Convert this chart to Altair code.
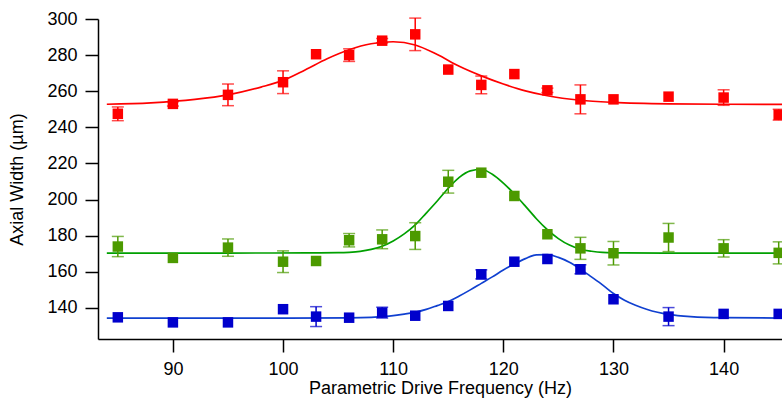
import altair as alt
import pandas as pd

# Measured data (frequency in Hz, axial width in µm)
freq = [85, 90, 95, 100, 103, 106, 109, 112, 115, 118, 121, 124, 127, 130, 135, 140, 145]

red_val = [247.5, 253.0, 258.0, 265.0, 280.5, 280.0, 288.0, 291.5, 272.0, 263.5, 269.5, 260.5, 255.5, 255.5, 257.0, 256.5, 247.0]
red_err = [3.8, 1.2, 6.0, 6.3, 0.0, 3.5, 1.2, 9.0, 0.0, 4.9, 0.0, 1.2, 8.0, 0.0, 0.0, 4.3, 3.0]

green_val = [174.0, 167.7, 173.4, 165.6, 166.0, 177.5, 178.0, 179.8, 209.9, 214.9, 202.0, 180.8, 173.0, 170.3, 179.0, 173.0, 170.5]
green_err = [5.6, 0.0, 4.8, 6.0, 0.0, 3.7, 5.2, 7.4, 6.3, 0.0, 0.0, 0.0, 6.1, 6.5, 7.8, 4.8, 6.1]

blue_val = [134.8, 132.0, 132.0, 139.3, 135.2, 134.6, 137.4, 135.7, 141.1, 158.6, 165.6, 167.1, 161.4, 144.8, 135.2, 136.7, 136.7]
blue_err = [0.0, 0.0, 0.0, 0.0, 5.5, 0.0, 3.0, 0.0, 0.0, 2.5, 0.0, 0.0, 2.5, 0.0, 5.0, 0.0, 0.0]

# Fit curves
red_curve_f = [84, 88, 92, 95, 98, 100, 102, 104, 106, 108, 110, 112, 114, 116, 118, 120, 122, 124, 127, 130, 135, 140, 145.3]
red_curve_v = [252.8, 253.6, 255.5, 258.0, 262.3, 266.0, 271.8, 278.0, 283.0, 286.3, 287.4, 285.6, 280.3, 273.8, 268.5, 264.0, 260.2, 257.5, 255.0, 253.8, 253.0, 252.8, 252.7]

green_curve_f = [84, 95, 102, 105, 106, 107, 108, 109, 110, 111, 112, 113, 114, 115, 116, 117, 118, 119, 120, 121, 122, 123, 124, 125, 126, 127, 128, 129, 131, 135, 140, 145.3]
green_curve_v = [170.4, 170.4, 170.5, 170.6, 170.8, 171.3, 172.4, 174.2, 177.1, 181.0, 186.0, 192.5, 199.2, 206.3, 212.3, 215.9, 216.8, 214.0, 209.1, 203.1, 196.4, 189.4, 183.3, 178.4, 174.8, 172.5, 171.4, 170.8, 170.5, 170.4, 170.4, 170.4]

blue_curve_f = [84, 100, 106, 108, 110, 111, 112, 113, 114, 115, 116, 117, 118, 119, 120, 121, 122, 123, 124, 125, 126, 127, 128, 129, 130, 131, 132, 133, 134, 135, 137, 140, 145.3]
blue_curve_v = [134.4, 134.4, 134.5, 134.8, 135.7, 136.6, 137.6, 139.2, 141.3, 143.5, 146.6, 150.0, 153.6, 157.2, 161.0, 164.3, 167.3, 169.4, 169.5, 168.0, 165.3, 161.5, 157.2, 152.8, 148.0, 144.3, 141.5, 139.3, 137.6, 136.4, 135.2, 134.6, 134.4]

x_ticks = [90, 100, 110, 120, 130, 140]
y_ticks = [140, 160, 180, 200, 220, 240, 260, 280, 300]

series = [
    ("red", red_val, red_err, red_curve_f, red_curve_v, "#FF0000", "#FF0000"),
    ("green", green_val, green_err, green_curve_f, green_curve_v, "#4C9A00", "#00A000"),
    ("blue", blue_val, blue_err, blue_curve_f, blue_curve_v, "#0000CC", "#1040D0"),
]

xscale = alt.Scale(domain=[83.2, 145.3], nice=False, zero=False)
yscale = alt.Scale(domain=[122.8, 300], nice=False, zero=False)
xaxis = alt.Axis(title="Parametric Drive Frequency (Hz)", values=x_ticks, format="d")
yaxis = alt.Axis(title="Axial Width (µm)", values=y_ticks, format="d")


def X(field):
    return alt.X(field, type="quantitative", scale=xscale, axis=xaxis)


def Y(field):
    return alt.Y(field, type="quantitative", scale=yscale, axis=yaxis)


curve_layers, err_layers, point_layers = [], [], []
for name, vals, errs, cf, cv, mcol, lcol in series:
    pts = pd.DataFrame({"f": freq, "v": vals, "e": errs})
    pts["lo"] = pts["v"] - pts["e"]
    pts["hi"] = pts["v"] + pts["e"]
    eb = pts[pts["e"] > 0]
    cur = pd.DataFrame({"f": cf, "v": cv})

    curve_layers.append(
        alt.Chart(cur).mark_line(color=lcol, strokeWidth=1.7, interpolate="monotone", clip=True)
        .encode(x=X("f"), y=Y("v"))
    )
    err_layers.append(
        alt.Chart(eb).mark_rule(color=mcol, strokeWidth=1.5)
        .encode(x=X("f"), y=Y("lo"), y2=alt.Y2("hi"))
    )
    for cap in ("lo", "hi"):
        err_layers.append(
            alt.Chart(eb).mark_tick(color=mcol, orient="horizontal", size=12, thickness=1.5)
            .encode(x=X("f"), y=Y(cap))
        )
    point_layers.append(
        alt.Chart(pts).mark_square(color=mcol, size=110, opacity=1, filled=True)
        .encode(x=X("f"), y=Y("v"))
    )

chart = alt.layer(*(curve_layers + err_layers + point_layers)).properties(
    width=684,
    height=320,
    autosize=alt.AutoSizeParams(type="none"),
    padding={"left": 98, "top": 19, "right": 0, "bottom": 67},
).configure_view(stroke=None).configure_axis(
    grid=False,
    domainColor="black",
    domainWidth=1.5,
    tickColor="black",
    tickWidth=1.5,
    tickSize=13,
    labelPadding=8,
    labelFont="Liberation Sans",
    titleFont="Liberation Sans",
    labelFontSize=18,
    titleFontSize=18,
    titleFontWeight="normal",
    labelColor="black",
    titleColor="black",
).configure_axisY(titlePadding=20).configure_axisX(titlePadding=1)

chart.save("out.html", embed_options={"renderer": "svg", "actions": False})
